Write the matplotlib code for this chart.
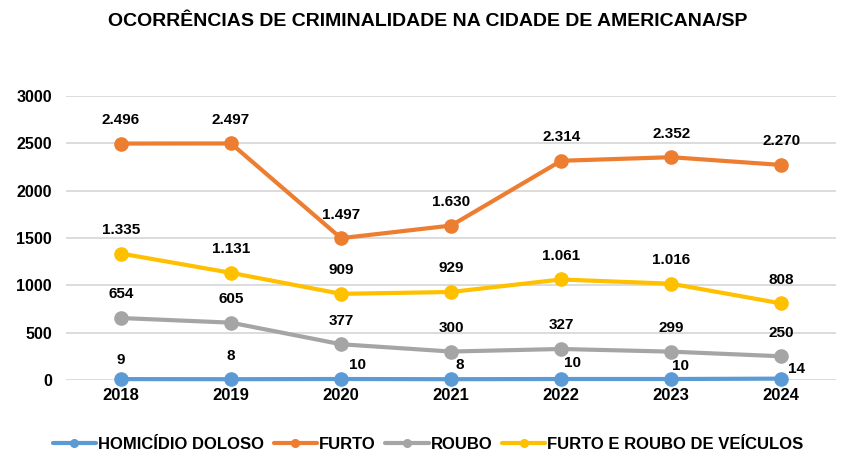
import matplotlib.pyplot as plt

anos = ['2018', '2019', '2020', '2021', '2022', '2023', '2024']
homicidio = [9, 8, 10, 8, 10, 10, 14]
furto = [2496, 2497, 1497, 1630, 2314, 2352, 2270]
roubo = [654, 605, 377, 300, 327, 299, 250]
veiculos = [1335, 1131, 909, 929, 1061, 1016, 808]

nomes = ['HOMICÍDIO DOLOSO', 'FURTO', 'ROUBO', 'FURTO E ROUBO DE VEÍCULOS']
cores = ['#5B9BD5', '#ED7D31', '#A5A5A5', '#FFC000']

plt.rcParams['font.family'] = ['Liberation Sans', 'DejaVu Sans']

fig = plt.figure(figsize=(8.56, 4.72), dpi=100)
ax = fig.add_axes([0.077, 0.195, 0.9, 0.602])

x = list(range(len(anos)))
series = [homicidio, furto, roubo, veiculos]
for vals, nome, cor in zip(series, nomes, cores):
    ax.plot(x, vals, color=cor, lw=3, marker='o', ms=9.5, label=nome,
            solid_capstyle='round', zorder=3, clip_on=False)

def fmt(v):
    return f'{v:,}'.replace(',', '.')

# labels above points
for vals in series[1:]:
    for xi, v in zip(x, vals):
        ax.annotate(fmt(v), (xi, v), xytext=(0, 17), textcoords='offset points',
                    ha='center', va='center', fontsize=11, fontweight='bold')

# homicidio labels (positioned like Excel did)
offs_h = [(0, 14), (0, 17), (11.5, 10), (6.5, 10), (8, 11.5), (7, 9.5), (11, 7)]
for xi, v, (dx, dy) in zip(x, homicidio, offs_h):
    ax.annotate(fmt(v), (xi, v), xytext=(dx, dy), textcoords='offset points',
                ha='center', va='center', fontsize=11, fontweight='bold')

ax.set_xlim(-0.5, 6.5)
ax.set_ylim(0, 3000)
ax.set_yticks(range(0, 3001, 500))
ax.set_xticks(x)
ax.set_xticklabels(anos, fontsize=12, fontweight='bold')
ax.tick_params(axis='y', labelsize=11.5, length=0, pad=10)
ax.tick_params(axis='x', length=0, pad=6)
for t in ax.get_yticklabels():
    t.set_fontweight('bold')
ax.grid(axis='y', color='#D9D9D9', lw=1.3, zorder=0)
for s in ax.spines.values():
    s.set_visible(False)

fig.text(0.5, 0.955, 'OCORRÊNCIAS DE CRIMINALIDADE NA CIDADE DE AMERICANA/SP',
         ha='center', va='center', fontsize=14, fontweight='bold')

leg = fig.legend(loc='center', bbox_to_anchor=(0.5, 0.058), ncol=4, frameon=False,
                 prop={'weight': 'bold', 'size': 12},
                 handlelength=2.6, handletextpad=0.1, columnspacing=0.6)
for h in leg.legend_handles:
    h.set_markersize(5.5)

fig.savefig('out.png', dpi=100)
